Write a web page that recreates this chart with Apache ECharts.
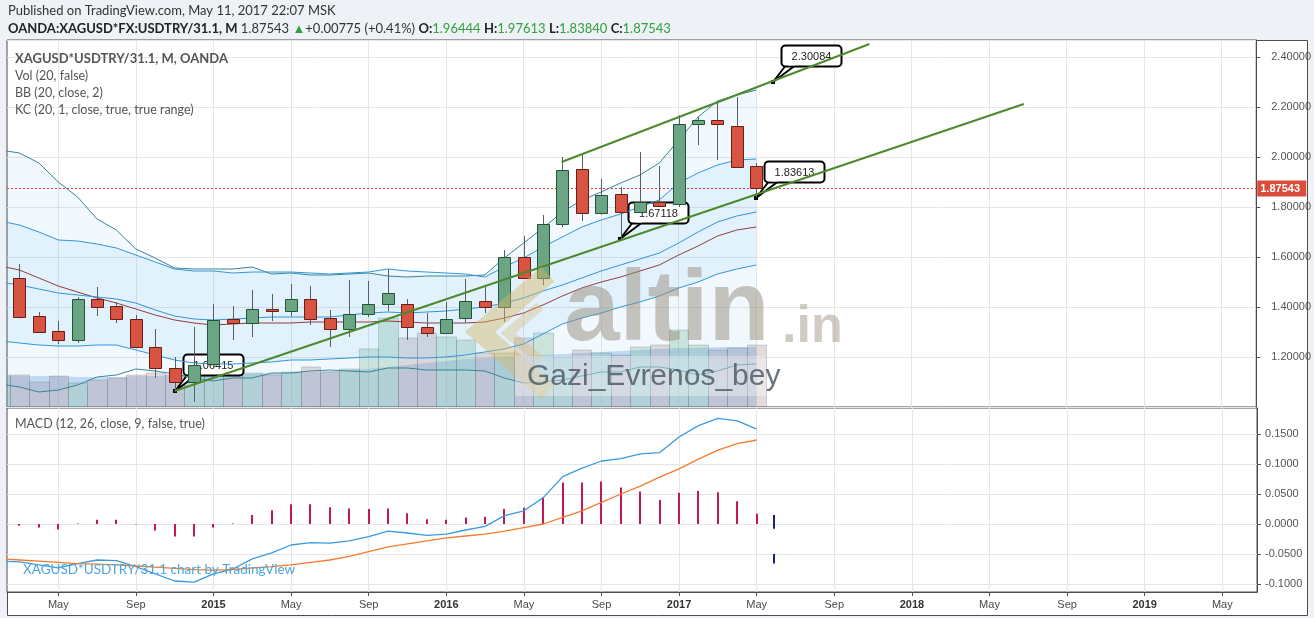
<!DOCTYPE html>
<html>
<head>
<meta charset="utf-8">
<script src="https://cdn.jsdelivr.net/npm/echarts/dist/echarts.min.js"></script>
<style>
html,body{margin:0;padding:0;background:#eef1f5;}
#c{width:1314px;height:618px;}
</style>
</head>
<body>
<div id="c"></div>
<script>
// ---------------- DATA ----------------
const periods = ['2014-02','2014-03','2014-04','2014-05','2014-06','2014-07','2014-08','2014-09','2014-10','2014-11','2014-12',
 '2015-01','2015-02','2015-03','2015-04','2015-05','2015-06','2015-07','2015-08','2015-09','2015-10','2015-11','2015-12',
 '2016-01','2016-02','2016-03','2016-04','2016-05','2016-06','2016-07','2016-08','2016-09','2016-10','2016-11','2016-12',
 '2017-01','2017-02','2017-03','2017-04','2017-05'];
const open  = [1.396,1.516,1.364,1.304,1.268,1.432,1.404,1.352,1.240,1.156,1.100,1.172,1.352,1.336,1.392,1.384,1.432,1.356,1.312,1.372,1.412,1.412,1.320,1.296,1.356,1.424,1.400,1.600,1.516,1.732,1.952,1.776,1.852,1.780,1.820,1.812,2.132,2.148,2.124,1.96444];
const high  = [1.560,1.572,1.380,1.344,1.440,1.480,1.420,1.368,1.312,1.200,1.320,1.412,1.404,1.468,1.452,1.492,1.484,1.388,1.508,1.504,1.552,1.432,1.376,1.420,1.512,1.480,1.628,1.684,1.768,2.000,2.012,1.912,1.880,2.020,1.964,2.168,2.160,2.216,2.240,1.97613];
const low   = [1.380,1.355,1.298,1.252,1.256,1.364,1.336,1.238,1.116,1.06415,1.020,1.160,1.268,1.280,1.344,1.364,1.328,1.240,1.280,1.360,1.384,1.268,1.280,1.296,1.336,1.376,1.340,1.516,1.488,1.720,1.744,1.770,1.67118,1.780,1.800,1.800,2.048,1.988,1.960,1.83840];
const close = [1.508,1.360,1.300,1.268,1.432,1.400,1.352,1.240,1.156,1.100,1.168,1.348,1.336,1.392,1.384,1.432,1.352,1.312,1.372,1.412,1.456,1.320,1.296,1.352,1.424,1.400,1.600,1.516,1.732,1.948,1.776,1.848,1.780,1.820,1.804,2.132,2.148,2.132,1.960,1.87543];
const volume = [32,32,25,31,24,27,29,32,34,32,35,37,32,34,32,35,40,35,38,58,89,69,74,70,67,54,54,69,74,50,57,54,52,60,62,77,62,57,59,62];
const volumeMA = [31,31,31,31,30,30,30,31,31,32,32,33,33,33,34,34,35,36,37,38,40,42,44,46,48,49,50,51,52,53,54,55,56,57,58,59,59,60,60,60];
const bbUpper = [2.028,2.016,1.976,1.900,1.840,1.752,1.708,1.632,1.596,1.556,1.552,1.552,1.552,1.560,1.532,1.536,1.528,1.528,1.532,1.536,1.524,1.520,1.524,1.524,1.524,1.528,1.596,1.656,1.716,1.780,1.828,1.860,1.896,1.928,1.976,2.068,2.160,2.224,2.248,2.268];
const bbBasis = [1.564,1.548,1.516,1.484,1.460,1.436,1.416,1.392,1.368,1.348,1.336,1.328,1.332,1.336,1.336,1.336,1.340,1.340,1.340,1.340,1.344,1.340,1.336,1.336,1.336,1.340,1.356,1.376,1.408,1.444,1.476,1.500,1.520,1.544,1.568,1.608,1.644,1.684,1.708,1.720];
const bbLower = [1.092,1.080,1.060,1.068,1.088,1.120,1.128,1.152,1.144,1.132,1.116,1.104,1.116,1.116,1.136,1.136,1.144,1.148,1.144,1.140,1.156,1.156,1.148,1.148,1.148,1.144,1.116,1.096,1.100,1.108,1.124,1.140,1.140,1.160,1.160,1.148,1.128,1.144,1.168,1.172];
const kcUpper = [1.744,1.728,1.700,1.668,1.664,1.652,1.636,1.608,1.580,1.552,1.544,1.544,1.536,1.540,1.540,1.540,1.536,1.532,1.536,1.540,1.552,1.544,1.540,1.536,1.532,1.520,1.560,1.596,1.640,1.680,1.720,1.748,1.772,1.800,1.828,1.896,1.936,1.968,1.988,1.992];
const kcMid   = [1.500,1.488,1.472,1.456,1.448,1.440,1.432,1.416,1.388,1.364,1.352,1.348,1.352,1.356,1.360,1.360,1.360,1.360,1.368,1.376,1.380,1.376,1.380,1.384,1.392,1.400,1.416,1.436,1.464,1.488,1.516,1.544,1.568,1.592,1.616,1.656,1.700,1.740,1.764,1.780];
const kcLower = [1.264,1.256,1.248,1.244,1.244,1.248,1.248,1.228,1.208,1.188,1.176,1.172,1.172,1.176,1.180,1.188,1.188,1.192,1.196,1.200,1.200,1.196,1.196,1.200,1.208,1.220,1.232,1.252,1.292,1.332,1.356,1.376,1.400,1.420,1.444,1.476,1.500,1.532,1.552,1.568];
const macdLine = [-0.062,-0.063,-0.068,-0.073,-0.066,-0.060,-0.061,-0.071,-0.083,-0.095,-0.097,-0.083,-0.075,-0.058,-0.048,-0.035,-0.031,-0.032,-0.028,-0.021,-0.012,-0.015,-0.019,-0.017,-0.010,-0.004,0.014,0.022,0.044,0.079,0.093,0.105,0.109,0.117,0.119,0.145,0.164,0.176,0.172,0.158];
const signalLine = [-0.058,-0.060,-0.062,-0.064,-0.066,-0.067,-0.068,-0.070,-0.072,-0.074,-0.076,-0.077,-0.076,-0.073,-0.071,-0.068,-0.064,-0.060,-0.054,-0.046,-0.038,-0.033,-0.028,-0.023,-0.020,-0.017,-0.012,-0.006,0.000,0.011,0.022,0.036,0.050,0.063,0.078,0.092,0.108,0.123,0.134,0.140];
const macdHist = [-0.004,-0.003,-0.006,-0.009,0.001,0.007,0.007,-0.001,-0.011,-0.021,-0.021,-0.006,0.001,0.015,0.023,0.033,0.033,0.028,0.026,0.025,0.026,0.018,0.008,0.007,0.011,0.012,0.025,0.027,0.044,0.069,0.069,0.071,0.061,0.054,0.040,0.052,0.055,0.053,0.038,0.017];
// month positions are "months since Jan 2014"
const trendLines = [[[10, 1.06415], [53.8, 2.212]], [[29.96, 1.98], [45.84, 2.452]]];
const callouts = [[10, 1.06415], [32.95, 1.67118], [40, 1.83613], [40.84, 2.30084]];
const navyMarks = [[40.87, 0.015, -0.008], [40.87, -0.050, -0.066]];
const xTicks = ['2014-05','2014-09','2015-01','2015-05','2015-09','2016-01','2016-05','2016-09','2017-01','2017-05','2017-09','2018-01','2018-05','2018-09','2019-01','2019-05'];
const monthNames = ['Jan','Feb','Mar','Apr','May','Jun','Jul','Aug','Sep','Oct','Nov','Dec'];
const macdTicks = [-0.1, -0.05, 0, 0.05, 0.1, 0.15];
const quote = {symbol:'OANDA:XAGUSD*FX:USDTRY/31.1, M', change:0.00775, pct:0.41};

// ---------------- BUILD ----------------
const toT = p => { const [y, m] = p.split('-').map(Number); return (y - 2014) * 12 + (m - 1); };
const T = periods.map(toT);
const n = T.length;
const last = n - 1;
const pairs = arr => T.map((t, k) => [t, arr[k]]);
const fmt5 = v => v.toFixed(5);

const XMIN = 1.356, XMAX = 65.789;
const FONT_AX = '"Liberation Sans Narrow","Liberation Sans",Arial,sans-serif';
const GRIDC = '#e6e6e6';
const FRAME = '#4d4d4d';

function renderCandle(params, api) {
  const t = api.value(0), o = api.value(1), c = api.value(2), l = api.value(3), h = api.value(4);
  const pO = api.coord([t, o]), pC = api.coord([t, c]), pL = api.coord([t, l]), pH = api.coord([t, h]);
  const w = Math.round(api.size([1, 0])[0] * 0.62);
  const xc = Math.round(pO[0]) + 0.5;
  const up = c >= o;
  const top = Math.round(Math.min(pO[1], pC[1])) + 0.5, bot = Math.round(Math.max(pO[1], pC[1])) + 0.5;
  return {type:'group', children:[
    {type:'line', shape:{x1:xc, y1:pH[1], x2:xc, y2:pL[1]}, style:{stroke:'#5a5d63', lineWidth:1}},
    {type:'rect', shape:{x:xc - w/2, y:top, width:w, height:Math.max(bot - top, 2)},
     style:{fill: up ? '#6ba583' : '#d75442', stroke: up ? '#225437' : '#6b1c14', lineWidth:1}}
  ]};
}
function renderVolume(params, api) {
  const t = api.value(0), v = api.value(1), up = api.value(2);
  const a = api.coord([t - 0.5, v]), b = api.coord([t + 0.5, 0]);
  const x0 = Math.round(a[0]) + 0.5, x1 = Math.round(b[0]) + 0.5;
  return {type:'rect', shape:{x:x0, y:a[1], width:x1 - x0, height:b[1] - a[1]},
    style:{fill: up ? 'rgba(120,180,140,0.30)' : 'rgba(165,140,140,0.30)', stroke:'rgba(80,95,110,0.25)', lineWidth:1}};
}
function bandRenderer(upper, lower, color) {
  return function (params, api) {
    const pts = [];
    for (let k = 0; k < n; k++) pts.push(api.coord([T[k], upper[k]]));
    for (let k = n - 1; k >= 0; k--) pts.push(api.coord([T[k], lower[k]]));
    return {type:'polygon', shape:{points:pts}, style:{fill:color}};
  };
}
function renderHist(params, api) {
  const t = api.value(0), v = api.value(1);
  const a = api.coord([t, 0]), b = api.coord([t, v]);
  const x = Math.round(a[0]);
  return {type:'line', shape:{x1:x, y1:a[1], x2:x, y2:b[1]}, style:{stroke:'#c2185b', lineWidth:2}};
}
function renderNavy(params, api) {
  const t = api.value(0);
  const a = api.coord([t, api.value(1)]), b = api.coord([t, api.value(2)]);
  const x = Math.round(a[0]);
  return {type:'line', shape:{x1:x, y1:a[1], x2:x, y2:b[1]}, style:{stroke:'#1a237e', lineWidth:2}};
}
function renderCallout(params, api) {
  const v = api.value(1);
  const p = api.coord([api.value(0), v]);
  const px = Math.round(p[0]), py = Math.round(p[1]);
  const bx = px + 8.5, by = py - 36.5, bw = 60, bh = 21;
  return {type:'group', children:[
    {type:'polygon', shape:{points:[[px, py], [bx + 5, by + bh - 2], [bx + 15, by + bh - 2]]},
      style:{fill:'#fff', stroke:'#000', lineWidth:2, lineJoin:'round'}},
    {type:'rect', shape:{x:bx, y:by, width:bw, height:bh, r:4}, style:{fill:'#fff', stroke:'#000', lineWidth:2}},
    {type:'polygon', shape:{points:[[bx + 6.5, by + bh - 1], [bx + 13.5, by + bh - 1], [bx + 10, by + bh - 4]]}, style:{fill:'#fff'}},
    {type:'text', style:{text: fmt5(v), x: bx + bw/2, y: by + bh/2 + 1, align:'center', verticalAlign:'middle', fill:'#222', font:'11px Arial'}},
    {type:'rect', shape:{x:px - 2, y:py - 2, width:4, height:4}, style:{fill:'#000'}}
  ]};
}
function renderPriceLine(params, api) {
  const v = api.value(0);
  const a = api.coord([XMIN, v]), b = api.coord([XMAX, v]);
  const y = Math.round(a[1]) + 0.5;
  return {type:'group', children:[
    {type:'line', shape:{x1:a[0], y1:y, x2:b[0], y2:y}, style:{stroke:'#e53935', lineWidth:1, lineDash:[2,2]}},
    {type:'rect', shape:{x:b[0] + 1, y:y - 8, width:49, height:16}, style:{fill:'#db4c3c'}},
    {type:'text', style:{text: fmt5(v), x:b[0] + 4, y:y + 0.5, verticalAlign:'middle', align:'left', fill:'#fff',
      font:'bold 11px ' + FONT_AX}}
  ]};
}
const lineSeries = (name, arr, color, z) => ({
  name, type:'line', xAxisIndex:0, yAxisIndex:0, data: pairs(arr), symbol:'none', z,
  lineStyle:{color, width:1}, silent:true
});

const xTickVals = xTicks.map(toT);

const option = {
  animation:false,
  grid:[
    {left:7, top:40, width:1250, height:367, show:true, borderColor:FRAME, borderWidth:1, backgroundColor:'#fff'},
    {left:7, top:408, width:1250, height:184, show:true, borderColor:FRAME, borderWidth:1, backgroundColor:'#fff'}
  ],
  xAxis:[
    {type:'value', gridIndex:0, min:XMIN, max:XMAX,
      axisLine:{show:false, onZero:false}, axisLabel:{show:false, customValues:xTickVals},
      axisTick:{show:false, customValues:xTickVals},
      splitLine:{show:true, lineStyle:{color:GRIDC}}},
    {type:'value', gridIndex:1, min:XMIN, max:XMAX,
      axisLine:{show:true, onZero:false, lineStyle:{color:FRAME}},
      axisTick:{show:true, customValues:xTickVals, length:4, lineStyle:{color:FRAME}},
      axisLabel:{show:true, customValues:xTickVals, margin:7, color:'#4a4a4a', fontSize:11, fontFamily:FONT_AX,
        formatter: v => { const r = Math.round(v); const m = ((r % 12) + 12) % 12; return m === 0 ? '{y|' + (2014 + r / 12) + '}' : monthNames[m]; },
        rich:{y:{fontWeight:'bold', color:'#333', fontSize:11, fontFamily:FONT_AX}}},
      splitLine:{show:true, lineStyle:{color:GRIDC}}}
  ],
  yAxis:[
    {type:'value', gridIndex:0, position:'right', min:1.0, max:2.468, interval:0.2,
      axisLine:{show:true, onZero:false, lineStyle:{color:FRAME}},
      axisTick:{show:true, length:4, lineStyle:{color:FRAME}},
      axisLabel:{margin:15, color:'#555', fontSize:11, fontFamily:FONT_AX, showMinLabel:false, showMaxLabel:false, formatter: v => v.toFixed(5)},
      splitLine:{show:true, lineStyle:{color:GRIDC}}},
    {type:'value', gridIndex:0, min:0, max:367, show:false, splitLine:{show:false}},
    {type:'value', gridIndex:1, position:'right', min:-0.11333, max:0.19333,
      axisLine:{show:true, onZero:false, lineStyle:{color:FRAME}},
      axisTick:{show:true, length:4, customValues:macdTicks, lineStyle:{color:FRAME}},
      axisLabel:{customValues:macdTicks, margin:8, color:'#555', fontSize:11, fontFamily:FONT_AX, formatter: v => v.toFixed(4)},
      splitLine:{show:true, lineStyle:{color:GRIDC}}}
  ],
  series:[
    // volume MA area
    {type:'line', xAxisIndex:0, yAxisIndex:1, data:pairs(volumeMA), symbol:'none', z:1, silent:true,
      lineStyle:{width:0}, areaStyle:{color:'rgba(74,144,226,0.42)', origin:'start'}},
    // volume bars
    {type:'custom', xAxisIndex:0, yAxisIndex:1, z:1, clip:true, silent:true,
      data: T.map((t, k) => [t, volume[k], close[k] >= open[k] ? 1 : 0]), renderItem: renderVolume},
    // BB and KC fills
    {type:'custom', xAxisIndex:0, yAxisIndex:0, z:2, clip:true, silent:true,
      data:[[T[last], bbUpper[last]]], renderItem: bandRenderer(bbUpper, bbLower, 'rgba(33,150,243,0.06)')},
    {type:'custom', xAxisIndex:0, yAxisIndex:0, z:2, clip:true, silent:true,
      data:[[T[last], kcUpper[last]]], renderItem: bandRenderer(kcUpper, kcLower, 'rgba(33,150,243,0.07)')},
    lineSeries('BB upper', bbUpper, '#3a8590', 3),
    lineSeries('BB lower', bbLower, '#3a8590', 3),
    lineSeries('BB basis', bbBasis, '#923c3c', 3),
    lineSeries('KC upper', kcUpper, '#3096da', 3),
    lineSeries('KC basis', kcMid, '#3096da', 3),
    lineSeries('KC lower', kcLower, '#3096da', 3),
    // last price line (dotted red) with its axis label
    {type:'custom', xAxisIndex:0, yAxisIndex:0, z:3, silent:true, clip:false, data:[[close[last]]], renderItem: renderPriceLine,
      encode:{y:0}},
    // callouts
    {type:'custom', xAxisIndex:0, yAxisIndex:0, z:3, silent:true, data:callouts, renderItem:renderCallout},
    // candles
    {type:'custom', xAxisIndex:0, yAxisIndex:0, z:4, clip:true, silent:true,
      data: T.map((t, k) => [t, open[k], close[k], low[k], high[k]]), renderItem: renderCandle},
    // trend lines
    ...trendLines.map(tl => ({type:'line', xAxisIndex:0, yAxisIndex:0, data:tl, symbol:'none', z:5, silent:true,
      lineStyle:{color:'#4b8a2d', width:2}})),
    // MACD
    {type:'custom', xAxisIndex:1, yAxisIndex:2, z:2, clip:true, silent:true, data:pairs(macdHist), renderItem:renderHist},
    {type:'line', xAxisIndex:1, yAxisIndex:2, data:pairs(macdLine), symbol:'none', z:3, silent:true, lineStyle:{color:'#3a9ae2', width:1.3}},
    {type:'line', xAxisIndex:1, yAxisIndex:2, data:pairs(signalLine), symbol:'none', z:3, silent:true, lineStyle:{color:'#f47c2c', width:1.3}},
    {type:'custom', xAxisIndex:1, yAxisIndex:2, z:3, silent:true, data:navyMarks, renderItem:renderNavy}
  ],
  graphic:[
    {type:'rect', z:-5, shape:{x:7.5, y:40.5, width:1300, height:575}, style:{fill:'#fff', stroke:FRAME, lineWidth:1}},
    {type:'text', left:8, top:4, z:10, style:{text:'Published on TradingView.com, May 11, 2017 22:07 MSK', font:'13px Lato', fill:'#333'}},
    {type:'text', left:8, top:22, z:10, style:{
      text:'{b|' + quote.symbol + '} {n|' + fmt5(close[last]) + '} {g|▲}{n|+' + quote.change.toFixed(5) + ' (+' + quote.pct.toFixed(2) + '%)} ' +
           '{b|O:}{v|' + fmt5(open[last]) + '} {b|H:}{v|' + fmt5(high[last]) + '} {b|L:}{v|' + fmt5(low[last]) + '} {b|C:}{v|' + fmt5(close[last]) + '}',
      font:'13px Lato',
      rich:{ b:{fill:'#222', font:'bold 13px Lato'}, n:{fill:'#333', font:'13px Lato'},
             g:{fill:'#2e9e46', font:'13px Lato'}, v:{fill:'#30a040', font:'13px Lato'} }}},
    // watermark logo
    {type:'polyline', z:6, silent:true, shape:{points:[[548,274],[480,332],[548,392]]},
      style:{stroke:'rgba(214,182,105,0.45)', lineWidth:20, fill:null, lineJoin:'miter'}},
    {type:'polyline', z:6, silent:true, shape:{points:[[540,306],[508,333],[540,360]]},
      style:{stroke:'rgba(214,182,105,0.35)', lineWidth:10, fill:null}},
    {type:'text', z:6, silent:true, style:{text:'altin', x:564, y:362, verticalAlign:'bottom', font:'bold 100px "Liberation Sans",Arial,sans-serif', fill:'rgba(150,140,122,0.5)'}},
    {type:'text', z:6, silent:true, style:{text:'.in', x:782, y:354, verticalAlign:'bottom', font:'bold 52px "Liberation Sans",Arial,sans-serif', fill:'rgba(150,140,122,0.45)'}},
    {type:'rect', z:6, silent:true, shape:{x:515, y:356, width:251, height:40}, style:{fill:'rgba(255,255,255,0.35)'}},
    {type:'text', z:7, silent:true, style:{text:'Gazi_Evrenos_bey', x:527, y:377, verticalAlign:'middle', font:'30px "Liberation Sans",Arial,sans-serif', fill:'rgba(80,92,102,0.85)'}},
    // pane legends
    {type:'text', left:15, top:52, z:10, style:{text:'XAGUSD*USDTRY/31.1, M, OANDA', font:'bold 13px Lato', fill:'#555'}},
    {type:'text', left:15, top:69, z:10, style:{text:'Vol (20, false)', font:'12.5px Lato', fill:'#555'}},
    {type:'text', left:15, top:86, z:10, style:{text:'BB (20, close, 2)', font:'12.5px Lato', fill:'#555'}},
    {type:'text', left:15, top:103, z:10, style:{text:'KC (20, 1, close, true, true range)', font:'12.5px Lato', fill:'#555'}},
    {type:'text', left:15, top:417, z:10, style:{text:'MACD (12, 26, close, 9, false, true)', font:'12.5px Lato', fill:'#555'}},
    {type:'text', left:23, top:563, z:10, style:{text:'XAGUSD*USDTRY/31.1 chart by TradingView', font:'13.5px Lato', fill:'#4ca6e0'}}
  ]
};

const chart = echarts.init(document.getElementById('c'));
chart.setOption(option);
</script>
</body>
</html>
